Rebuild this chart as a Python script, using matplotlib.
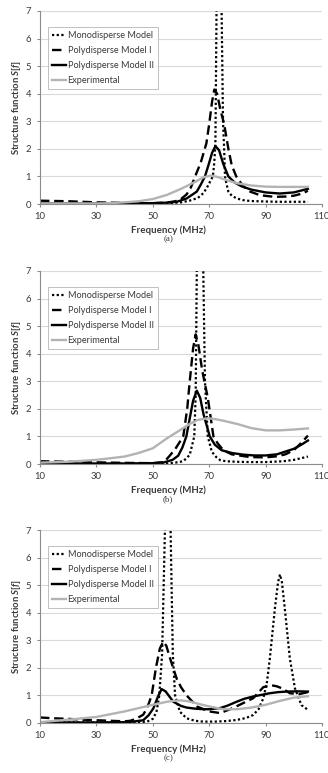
import matplotlib
matplotlib.use("Agg")
import matplotlib.pyplot as plt

plt.rcParams['font.family'] = ['Lato', 'DejaVu Sans']
plt.rcParams['mathtext.fontset'] = 'custom'
plt.rcParams['mathtext.it'] = 'Lato:italic:bold'
plt.rcParams['mathtext.rm'] = 'Lato:bold'

series_names = ["Monodisperse Model", "Polydisperse Model I", "Polydisperse Model II", "Experimental"]
panel_labels = ["(a)", "(b)", "(c)"]
x_ticks = [10, 30, 50, 70, 90, 110]
y_ticks = [0, 1, 2, 3, 4, 5, 6, 7]

# ---- Panel (a) ----
a_mono_f = [10, 20, 30, 40, 50, 55, 60, 63, 66, 68, 69.5, 70.5, 71.3, 71.8, 72.2, 72.6, 73.5, 74.4, 74.9, 75.3, 75.6, 76.2, 76.8, 78, 79.8, 82, 84.5, 90, 95, 100, 105]
a_mono_v = [0.0, 0.0, 0.0, 0.0, 0.01, 0.02, 0.06, 0.12, 0.22, 0.4, 0.65, 0.85, 1.0, 1.5, 2.2, 7.0, 14.0, 7.0, 3.0, 2.0, 1.0, 0.7, 0.45, 0.3, 0.2, 0.14, 0.11, 0.09, 0.08, 0.08, 0.08]
a_p1_f = [10, 15, 20, 25, 30, 35, 40, 45, 50, 55, 58, 60, 62, 63.5, 65, 67, 69, 70, 71, 71.8, 72.8, 74, 75.3, 76.8, 78, 79.6, 82, 84.5, 88, 93, 97, 100, 103, 105]
a_p1_v = [0.12, 0.11, 0.1, 0.08, 0.06, 0.05, 0.04, 0.03, 0.03, 0.05, 0.1, 0.18, 0.35, 0.6, 1.0, 1.5, 2.2, 2.9, 3.7, 4.15, 4.0, 3.4, 2.9, 2.0, 1.4, 1.0, 0.65, 0.45, 0.32, 0.26, 0.27, 0.3, 0.38, 0.48]
a_p2_f = [10, 20, 30, 40, 50, 55, 58.5, 62, 65.6, 67, 68.5, 70, 71, 72.2, 73.5, 75, 76.8, 79, 81.5, 85, 90, 95, 100, 105]
a_p2_v = [0.02, 0.02, 0.02, 0.02, 0.03, 0.05, 0.08, 0.2, 0.45, 0.7, 1.0, 1.5, 1.85, 2.1, 1.95, 1.45, 1.0, 0.78, 0.64, 0.52, 0.42, 0.38, 0.42, 0.55]
a_exp_f = [10, 20, 30, 35, 40, 45, 50, 55, 60, 65, 68, 70.5, 73, 76, 80, 85, 90, 95, 100, 105]
a_exp_v = [0.02, 0.02, 0.02, 0.03, 0.06, 0.1, 0.18, 0.33, 0.55, 0.8, 0.97, 1.03, 0.98, 0.87, 0.75, 0.67, 0.63, 0.62, 0.62, 0.62]

# ---- Panel (b) ----
b_mono_f = [10, 20, 30, 40, 50, 55, 58, 60.8, 63.1, 64.7, 65.2, 65.6, 66.8, 67.9, 68.5, 69.5, 70.9, 72.5, 73.9, 76, 79.8, 85, 90, 96.3, 100, 103, 105]
b_mono_v = [0.0, 0.0, 0.0, 0.0, 0.01, 0.02, 0.05, 0.1, 0.33, 1.0, 2.5, 7.0, 14.0, 7.0, 3.0, 1.0, 0.45, 0.25, 0.14, 0.1, 0.08, 0.07, 0.07, 0.1, 0.15, 0.22, 0.27]
b_p1_f = [10, 15, 20, 25, 30, 40, 50, 54, 56, 58, 60.8, 62.2, 63.1, 64.3, 65.2, 66.2, 67.5, 69.5, 71.5, 73, 75, 78, 84.5, 90, 94, 97, 100, 102, 104.3, 105]
b_p1_v = [0.1, 0.09, 0.08, 0.07, 0.06, 0.04, 0.03, 0.07, 0.3, 0.55, 1.0, 2.0, 3.0, 4.2, 4.7, 4.3, 3.4, 2.4, 1.0, 0.75, 0.5, 0.35, 0.25, 0.24, 0.28, 0.35, 0.5, 0.7, 0.95, 1.03]
b_p2_f = [10, 20, 30, 40, 50, 54, 57, 59, 60.5, 61.9, 63, 64.3, 65.6, 66.8, 68, 70.2, 72, 74.4, 78, 82, 86, 90, 94, 97, 100, 103, 105]
b_p2_v = [0.02, 0.02, 0.02, 0.02, 0.03, 0.06, 0.15, 0.3, 0.6, 1.0, 1.6, 2.3, 2.66, 2.4, 1.8, 1.0, 0.7, 0.5, 0.4, 0.34, 0.31, 0.31, 0.35, 0.45, 0.55, 0.72, 0.85]
b_exp_f = [10, 20, 30, 40, 45, 50, 55, 60, 63, 66, 69.5, 72, 75, 80, 85, 90, 95, 100, 105]
b_exp_v = [0.05, 0.08, 0.15, 0.27, 0.4, 0.57, 0.93, 1.25, 1.45, 1.6, 1.66, 1.63, 1.57, 1.45, 1.3, 1.22, 1.22, 1.25, 1.29]

# ---- Panel (c) ----
c_mono_f = [10, 20, 30, 40, 45, 48, 50, 51.3, 52.3, 53.3, 54.3, 55.3, 56.3, 57.1, 57.9, 59.6, 62, 65, 67.9, 72, 76, 79.7, 83, 85.6, 87.5, 89.2, 90.5, 91.5, 93.3, 94.4, 95.1, 95.8, 96.8, 98.6, 100.4, 102.7, 105.1]
c_mono_v = [0.02, 0.02, 0.02, 0.02, 0.03, 0.05, 0.15, 0.4, 1.0, 2.5, 7.0, 14.0, 7.0, 2.5, 1.0, 0.41, 0.17, 0.08, 0.05, 0.05, 0.07, 0.11, 0.18, 0.29, 0.5, 0.9, 1.5, 2.34, 4.16, 5.1, 5.39, 5.1, 4.16, 2.34, 1.26, 0.65, 0.47]
c_p1_f = [10, 15, 20, 25, 30, 35, 40, 42, 44, 46.6, 48, 49.6, 51.1, 52.5, 53.7, 54.8, 56.1, 58.5, 60, 62, 65.6, 70, 73.9, 77.4, 80, 85.6, 89.2, 92, 94, 96, 98.6, 102, 105]
c_p1_v = [0.2, 0.17, 0.15, 0.12, 0.1, 0.08, 0.06, 0.08, 0.15, 0.3, 0.55, 1.0, 2.0, 2.7, 2.95, 2.8, 2.35, 1.6, 1.3, 1.0, 0.6, 0.42, 0.36, 0.5, 0.62, 0.9, 1.3, 1.37, 1.33, 1.25, 1.08, 1.05, 1.12]
c_p2_f = [10, 20, 30, 40, 43, 46.6, 48.5, 50.2, 51.8, 53.1, 54.5, 57.3, 60, 62, 65, 67.9, 70, 73.8, 76.5, 79.7, 82.5, 85.6, 88.5, 91.5, 94.5, 97.4, 101, 105]
c_p2_v = [0.02, 0.02, 0.02, 0.03, 0.05, 0.1, 0.28, 0.53, 0.95, 1.23, 1.15, 0.77, 0.62, 0.56, 0.52, 0.5, 0.5, 0.54, 0.63, 0.77, 0.88, 0.96, 1.02, 1.08, 1.12, 1.14, 1.15, 1.14]
c_exp_f = [10, 20, 30, 40, 45, 50, 55, 58, 60, 63, 66, 70, 75, 80, 85, 90, 95, 100, 105]
c_exp_v = [0.03, 0.12, 0.22, 0.42, 0.54, 0.66, 0.77, 0.81, 0.82, 0.78, 0.7, 0.6, 0.5, 0.5, 0.56, 0.66, 0.8, 0.92, 0.97]

panels = [
    [(a_mono_f, a_mono_v), (a_p1_f, a_p1_v), (a_p2_f, a_p2_v), (a_exp_f, a_exp_v)],
    [(b_mono_f, b_mono_v), (b_p1_f, b_p1_v), (b_p2_f, b_p2_v), (b_exp_f, b_exp_v)],
    [(c_mono_f, c_mono_v), (c_p1_f, c_p1_v), (c_p2_f, c_p2_v), (c_exp_f, c_exp_v)],
]

styles = [
    dict(color="black", lw=1.6, linestyle=(0, (1, 1.1)), dash_capstyle="butt"),
    dict(color="black", lw=1.7, linestyle=(0, (4, 2))),
    dict(color="black", lw=1.7, linestyle="-"),
    dict(color="#b3b3b3", lw=1.7, linestyle="-"),
]

W, H = 328, 773
fig = plt.figure(figsize=(W / 100, H / 100), dpi=100)
left = 40 / W
width = (322 - 40) / W
tops = [11, 271, 530]
bottoms = [204, 464, 723]
caption_y = [239, 499, 758]
xlabel_y = [230, 490, 749]
TXT = "#3a3a3a"

for i, data in enumerate(panels):
    bpx, tpx = bottoms[i], tops[i]
    ax = fig.add_axes([left, 1 - bpx / H, width, (bpx - tpx) / H])
    handles = []
    for (f, v), st, name in zip(data, styles, series_names):
        h, = ax.plot(f, v, label=name, clip_on=True, **st)
        handles.append(h)
    ax.set_xlim(10, 110)
    ax.set_ylim(0, 7)
    ax.set_xticks(x_ticks)
    ax.set_yticks(y_ticks)
    ax.yaxis.grid(True, color="#d9d9d9", lw=0.8)
    ax.set_axisbelow(True)
    for s in ["top", "right"]:
        ax.spines[s].set_visible(False)
    for s in ["left", "bottom"]:
        ax.spines[s].set_color("#8c8c8c")
        ax.spines[s].set_linewidth(0.8)
    ax.tick_params(axis="both", labelsize=6.8, colors="#8c8c8c", length=2.5, width=0.8,
                   labelcolor=TXT)
    ax.tick_params(axis="y", pad=4)
    ax.tick_params(axis="x", pad=3)
    ax.set_ylabel(r"Structure function $S[f]$", fontsize=6.8, fontweight="bold",
                  color=TXT, labelpad=1.5)
    fig.text(left + width * 0.455, 1 - xlabel_y[i] / H, "Frequency (MHz)", fontsize=7.0,
             fontweight="bold", color=TXT, ha="center", va="center")
    fig.text(left + width * 0.455, 1 - caption_y[i] / H, panel_labels[i], fontsize=6.5,
             family="Liberation Serif", color=TXT, ha="center", va="center")
    leg = ax.legend(handles=handles, loc="upper left", bbox_to_anchor=(0.028, 0.917),
                    fontsize=6.6, frameon=True, fancybox=False, handlelength=1.5,
                    handletextpad=0.2, labelspacing=0.65, borderpad=0.45, borderaxespad=0)
    leg.get_frame().set_edgecolor("#b0b0b0")
    leg.get_frame().set_linewidth(0.7)
    for t in leg.get_texts():
        t.set_color(TXT)

fig.savefig("out.png", dpi=100)
